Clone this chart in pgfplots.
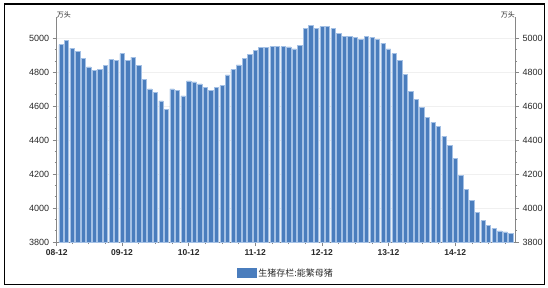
\documentclass[border=0pt]{standalone}
\usepackage{pgfplots}
\pgfplotsset{compat=1.18}
\usepackage{pgfplotstable}
\usepackage{fontspec}
\setmainfont{Liberation Sans}
\newfontfamily\cjk{Noto Sans CJK SC}
\definecolor{barblue}{RGB}{74,125,189}
\definecolor{baredge}{RGB}{165,193,229}
\definecolor{axgray}{RGB}{134,134,134}
\definecolor{txt}{RGB}{40,40,40}
\pgfplotstableread{
x y
1 4962
2 4988
3 4941
4 4921
5 4882
6 4831
7 4810
8 4818
9 4841
10 4876
11 4871
12 4910
13 4871
14 4888
15 4841
16 4759
17 4702
18 4682
19 4631
20 4582
21 4702
22 4692
23 4661
24 4749
25 4743
26 4731
27 4710
28 4694
29 4710
30 4721
31 4784
32 4815
33 4843
34 4880
35 4906
36 4927
37 4947
38 4947
39 4951
40 4951
41 4951
42 4949
43 4938
44 4959
45 5059
46 5074
47 5059
48 5068
49 5068
50 5056
51 5029
52 5009
53 5009
54 5005
55 4995
56 5010
57 5006
58 4995
59 4971
60 4938
61 4909
62 4868
63 4789
64 4687
65 4640
66 4595
67 4536
68 4504
69 4479
70 4422
71 4369
72 4292
73 4194
74 4112
75 4045
76 3975
77 3926
78 3900
79 3880
80 3865
81 3859
82 3851
}\sows
\begin{document}
\begin{tikzpicture}
\pgfplotsset{
  common/.style={
    at={(56.7pt,45pt)}, anchor=south west,
    scale only axis, width=458.3pt, height=225pt,
    xmin=0.23, xmax=82.77, ymin=3800, ymax=5125,
    ytick={3800,4000,4200,4400,4600,4800,5000},
    minor y tick num=2,
    tick align=outside,
    major tick length=4pt, minor tick length=2pt,
    axis line style={draw=axgray, line width=0.8pt},
    every tick/.style={draw=axgray, line width=0.7pt},
    /pgf/number format/assume math mode=true,
    /pgf/number format/1000 sep={},
    yticklabel style={font=\fontsize{9}{10}\selectfont, text=txt},
    clip=false,
  }
}
\begin{axis}[common,
    axis x line*=bottom, axis y line*=left,
    xtick={0.23,12,24,36,48,60,72},
    xticklabels={08-12,09-12,10-12,11-12,12-12,13-12,14-12},
    minor xtick={3,6,9,15,18,21,27,30,33,39,42,45,51,54,57,63,66,69,75,78,81},
    xticklabel style={font=\fontsize{8.5}{10}\selectfont\bfseries, text=txt},
    ymajorgrids, major grid style={draw=gray!12, line width=0.6pt},
    ybar, bar width=0.78, bar shift=0pt,
    legend style={at={(0.5,-0.138)}, anchor=center, draw=none, fill=none,
      font=\cjk\fontsize{9}{10}\selectfont, text=txt, inner sep=0pt},
    legend image code/.code={\draw[fill=barblue, draw=barblue] (0pt,-4.5pt) rectangle (19pt,4.5pt);},
]
\addplot[fill=barblue, draw=baredge, line width=0.5pt] table[x=x,y=y] {\sows};
\addlegendentry{生猪存栏:能繁母猪}
\node[anchor=south west, inner sep=0pt, yshift=-1pt, font=\cjk\fontsize{7}{8}\selectfont, text=txt] at (rel axis cs:0,1) {万头};
\end{axis}
\begin{axis}[common,
    axis x line=none, axis y line*=right,
]
\node[anchor=south east, inner sep=0pt, yshift=-1pt, font=\cjk\fontsize{7}{8}\selectfont, text=txt] at (rel axis cs:1,1) {万头};
\end{axis}
\draw[line width=1.2pt] (4.3pt,2.7pt) rectangle (544.7pt,283pt);
\pgfresetboundingbox
\path[use as bounding box] (0,0) rectangle (548pt,287pt);
\end{tikzpicture}
\end{document}
